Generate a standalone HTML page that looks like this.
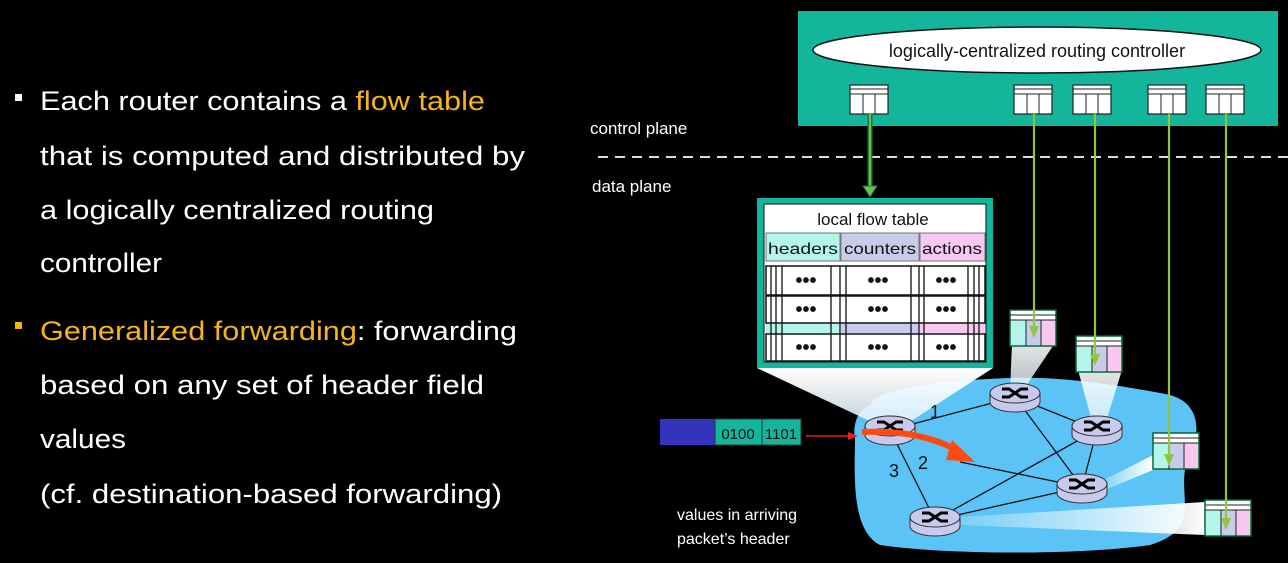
<!DOCTYPE html>
<html><head><meta charset="utf-8"><style>
html,body{margin:0;padding:0;background:#000;width:1288px;height:563px;overflow:hidden}
svg{display:block}
text{font-family:"Liberation Sans","Noto Sans CJK KR",sans-serif}
</style></head><body>
<svg width="1288" height="563" viewBox="0 0 1288 563" xmlns="http://www.w3.org/2000/svg">
<defs>
<linearGradient id="fh" x1="0" y1="0" x2="0" y2="1"><stop offset="0" stop-color="#fff"/><stop offset="1" stop-color="#e8f4fb" stop-opacity="0.85"/></linearGradient>
<linearGradient id="fr" x1="1" y1="0" x2="0" y2="0"><stop offset="0" stop-color="#fff"/><stop offset="1" stop-color="#fff" stop-opacity="0.2"/></linearGradient>
<g id="mt"><rect x="0" y="0" width="38" height="29" fill="#fff" stroke="#222" stroke-width="1.2"/><line x1="0" y1="4" x2="38" y2="4" stroke="#222"/><line x1="0" y1="9" x2="38" y2="9" stroke="#222"/><line x1="13" y1="9" x2="13" y2="29" stroke="#222"/><line x1="25" y1="9" x2="25" y2="29" stroke="#222"/></g>
<g id="ct"><rect x="0" y="0" width="46" height="36" fill="#fff" stroke="#063" stroke-width="1.5"/><rect x="1" y="10" width="15" height="25" fill="#b3f5ea"/><rect x="16" y="10" width="15" height="25" fill="#c8cbea"/><rect x="31" y="10" width="14" height="25" fill="#f8c8f0"/><line x1="0" y1="5" x2="46" y2="5" stroke="#222"/><line x1="0" y1="10" x2="46" y2="10" stroke="#222"/><line x1="16" y1="10" x2="16" y2="36" stroke="#222"/><line x1="31" y1="10" x2="31" y2="36" stroke="#222"/></g>
<g id="rt"><path d="M-25,0 v9 a25,10 0 0 0 50,0 v-9" fill="#c9c9ee" stroke="#333"/><ellipse cx="0" cy="0" rx="25" ry="10" fill="#c9c9ee" stroke="#333"/><path d="M-13,-4 h7 l6,4 l6,-4 h7 M-13,4 h7 l6,-4 l6,4 h7" fill="none" stroke="#000" stroke-width="3"/></g>
</defs>

<rect x="15" y="94" width="7" height="7" fill="#fff"/>
<text x="40" y="110" font-size="27" fill="#fff" textLength="445" lengthAdjust="spacingAndGlyphs">Each router contains a <tspan fill="#f5b31c">flow table</tspan></text>
<text x="40" y="165" font-size="27" fill="#fff" textLength="485" lengthAdjust="spacingAndGlyphs">that is computed and distributed by</text>
<text x="40" y="219" font-size="27" fill="#fff" textLength="394" lengthAdjust="spacingAndGlyphs">a logically centralized routing</text>
<text x="40" y="272" font-size="27" fill="#fff" textLength="122" lengthAdjust="spacingAndGlyphs">controller</text>
<rect x="15" y="322" width="7" height="7" fill="#f5b31c"/>
<text x="40" y="340" font-size="27" fill="#f5b31c" textLength="477" lengthAdjust="spacingAndGlyphs">Generalized forwarding<tspan fill="#fff">: forwarding</tspan></text>
<text x="40" y="394" font-size="27" fill="#fff" textLength="444" lengthAdjust="spacingAndGlyphs">based on any set of header field</text>
<text x="40" y="448" font-size="27" fill="#fff" textLength="86" lengthAdjust="spacingAndGlyphs">values</text>
<text x="40" y="503" font-size="27" fill="#fff" textLength="462" lengthAdjust="spacingAndGlyphs">(cf. destination-based forwarding)</text>

<rect x="798" y="11" width="480" height="115" fill="#13b59b"/>
<ellipse cx="1037" cy="50" rx="224" ry="23" fill="#fff" stroke="#111" stroke-width="1.5"/>
<text x="1037" y="57" font-size="18" fill="#111" text-anchor="middle">logically-centralized routing controller</text>
<use href="#mt" x="850" y="85"/><use href="#mt" x="1014" y="85"/><use href="#mt" x="1073" y="85"/><use href="#mt" x="1148" y="85"/><use href="#mt" x="1206" y="85"/>

<text x="590" y="134" font-size="17" fill="#fff">control plane</text>
<line x1="598" y1="157" x2="1288" y2="157" stroke="#ddd" stroke-width="2" stroke-dasharray="10,7"/>
<text x="592" y="192" font-size="17" fill="#fff">data plane</text>

<path d="M870,405 C880,385 960,380 1010,378 C1060,376 1120,385 1170,395 C1205,405 1200,440 1185,470 C1180,500 1200,530 1150,545 C1080,555 950,555 880,545 C850,530 855,470 855,440 C852,420 860,410 870,405 Z" fill="#5bc3f5"/>

<path d="M757,368 L993,368 L905,425 L878,425 Z" fill="url(#fh)"/>
<path d="M1012,343 L1055,343 L1022,392 L1010,392 Z" fill="url(#fh)" opacity="0.9"/>
<path d="M1078,370 L1122,370 L1105,425 L1093,425 Z" fill="url(#fh)" opacity="0.9"/>
<path d="M1153,455 L1100,482 L1100,492 L1153,470 Z" fill="url(#fr)"/>
<path d="M1205,502 L960,517 L960,525 L1205,535 Z" fill="url(#fr)"/>

<g stroke="#111" stroke-width="1.3">
<line x1="890" y1="430" x2="1015" y2="397"/><line x1="890" y1="430" x2="935" y2="520"/>
<line x1="1015" y1="397" x2="1097" y2="430"/><line x1="1015" y1="397" x2="1082" y2="487"/>
<line x1="1097" y1="430" x2="1082" y2="487"/><line x1="1097" y1="430" x2="935" y2="520"/>
<line x1="1082" y1="487" x2="935" y2="520"/><line x1="960" y1="462" x2="1082" y2="487"/>
</g>
<text x="930" y="418" font-size="18" fill="#111">1</text>
<text x="918" y="469" font-size="18" fill="#111">2</text>
<text x="889" y="477" font-size="18" fill="#111">3</text>

<use href="#rt" x="1015" y="393"/><use href="#rt" x="1097" y="426"/><use href="#rt" x="1082" y="484"/><use href="#rt" x="935" y="517"/><use href="#rt" x="890" y="426"/>

<path d="M862,432 C910,430 940,440 960,452" fill="none" stroke="#ff4a10" stroke-width="6"/>
<path d="M952,440 L975,462 L946,460 Z" fill="#ff4a10"/>

<rect x="660" y="419" width="55" height="26" fill="#3333bb"/>
<rect x="715" y="419" width="47" height="26" fill="#13b59b" stroke="#333"/>
<rect x="762" y="419" width="39" height="26" fill="#13b59b" stroke="#333"/>
<text x="738" y="439" font-size="15" fill="#111" text-anchor="middle">0100</text>
<text x="781" y="439" font-size="15" fill="#111" text-anchor="middle">1101</text>
<line x1="806" y1="436" x2="850" y2="436" stroke="#e02020" stroke-width="1.5"/>
<path d="M848,432 L858,436 L848,440 Z" fill="#e02020"/>

<text x="677" y="520" font-size="16" fill="#fff">values in arriving</text>
<text x="677" y="544" font-size="16" fill="#fff">packet’s header</text>

<rect x="757" y="198" width="236" height="170" fill="#13b59b"/>
<rect x="764" y="204" width="222" height="158" fill="#fff" stroke="#111"/>
<text x="873" y="225" font-size="17" fill="#111" text-anchor="middle">local flow table</text>
<rect x="766" y="233" width="74" height="28" fill="#b3f5ea" stroke="#777"/>
<rect x="841" y="233" width="78" height="28" fill="#c8cbea" stroke="#777"/>
<rect x="920" y="233" width="65" height="28" fill="#f8c8f0" stroke="#777"/>
<text x="803" y="254" font-size="16" fill="#111" text-anchor="middle" textLength="70" lengthAdjust="spacingAndGlyphs">headers</text>
<text x="880" y="254" font-size="16" fill="#111" text-anchor="middle" textLength="72" lengthAdjust="spacingAndGlyphs">counters</text>
<text x="952" y="254" font-size="16" fill="#111" text-anchor="middle" textLength="60" lengthAdjust="spacingAndGlyphs">actions</text>
<rect x="766" y="323" width="74" height="10" fill="#b3f5ea"/><rect x="841" y="323" width="78" height="10" fill="#c8cbea"/><rect x="920" y="323" width="65" height="10" fill="#f8c8f0"/>
<g fill="none" stroke="#111" stroke-width="1.5">
<rect x="766" y="266" width="219" height="29"/><rect x="766" y="296" width="219" height="27"/><rect x="766" y="334" width="219" height="27"/>
</g>
<g stroke="#111" stroke-width="1.3">
<line x1="771" y1="266" x2="771" y2="361"/><line x1="776" y1="266" x2="776" y2="361"/><line x1="782" y1="266" x2="782" y2="361"/>
<line x1="831" y1="266" x2="831" y2="361"/><line x1="840" y1="266" x2="840" y2="361"/><line x1="846" y1="266" x2="846" y2="361"/>
<line x1="911" y1="266" x2="911" y2="361"/><line x1="919" y1="266" x2="919" y2="361"/><line x1="924" y1="266" x2="924" y2="361"/>
<line x1="968" y1="266" x2="968" y2="361"/><line x1="974" y1="266" x2="974" y2="361"/><line x1="979" y1="266" x2="979" y2="361"/>
</g>
<g font-size="20" font-weight="bold" fill="#111" text-anchor="middle">
<text x="806" y="287">•••</text><text x="878" y="287">•••</text><text x="946" y="287">•••</text>
<text x="806" y="316">•••</text><text x="878" y="316">•••</text><text x="946" y="316">•••</text>
<text x="806" y="354">•••</text><text x="878" y="354">•••</text><text x="946" y="354">•••</text>
</g>

<use href="#ct" x="1010" y="310"/><use href="#ct" x="1076" y="336"/><use href="#ct" x="1153" y="433"/><use href="#ct" x="1205" y="500"/>

<line x1="870" y1="114" x2="870" y2="190" stroke="#1c7a3a" stroke-width="5"/>
<line x1="870" y1="114" x2="870" y2="190" stroke="#6fbf4f" stroke-width="2"/>
<path d="M863,186 L870,197 L877,186 Z" fill="#6fbf4f" stroke="#1c7a3a"/>
<g stroke="#8ec63f" stroke-width="2.2">
<line x1="1034" y1="114" x2="1034" y2="330"/><line x1="1095" y1="114" x2="1095" y2="358"/>
<line x1="1169" y1="114" x2="1169" y2="458"/><line x1="1226" y1="114" x2="1226" y2="522"/>
</g>
<g fill="#8ec63f">
<path d="M1029,326 L1034,338 L1039,326 Z"/><path d="M1090,354 L1095,366 L1100,354 Z"/>
<path d="M1164,454 L1169,466 L1174,454 Z"/><path d="M1221,518 L1226,530 L1231,518 Z"/>
</g>
</svg>
</body></html>
